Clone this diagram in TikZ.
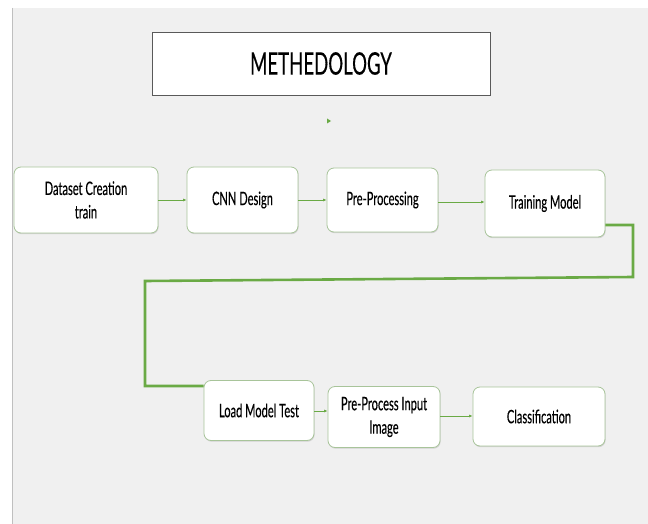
\documentclass[tikz,border=0pt]{standalone}
\usepackage{fontspec}
\setmainfont[FakeStretch=0.6,FakeBold=0.3]{Lato}
\usetikzlibrary{arrows.meta,shadows}
\definecolor{bg}{HTML}{F0F0F0}
\definecolor{lg}{HTML}{6AAA45}
\definecolor{bd}{HTML}{A8C49A}
\tikzset{
  box/.style={draw=bd, line width=0.8pt, fill=white, rounded corners=7pt,
    align=center, font=\fontsize{18.5}{23.5}\selectfont, inner sep=2pt,
    drop shadow={shadow xshift=0.6pt, shadow yshift=-1.2pt, fill=black!25, opacity=0.6}},
  flow/.style={draw=lg, line width=0.7pt, -{Latex[length=3.5pt,width=3pt]}},
  loopline/.style={draw=lg, line width=2.6pt}
}
\begin{document}
\begin{tikzpicture}[x=1pt,y=-1pt]
\useasboundingbox (0,0) rectangle (648,524);
\fill[white] (0,0) rectangle (648,524);
\fill[bg] (12,8) rectangle (648,524);
\draw[black!25, line width=0.8pt] (12,8) -- (12,524);
% title
\node[draw=black!65, line width=0.8pt, fill=white, minimum width=338pt, minimum height=63pt,
  font=\fontsize{31}{36}\selectfont, inner sep=0pt] (title) at (321,63.5) {METHEDOLOGY};
\fill[lg] (327,118.5) -- (331,121) -- (327,123.5) -- cycle;
% row 1
\node[box, minimum width=144pt, minimum height=66pt] (b1) at (86,200) {Dataset Creation\\train};
\node[box, minimum width=111pt, minimum height=66pt] (b2) at (242.5,200) {CNN Design};
\node[box, minimum width=111pt, minimum height=64pt] (b3) at (382.5,200) {Pre-Processing};
\node[box, minimum width=120pt, minimum height=67pt] (b4) at (545,203.5) {Training Model};
% row 2
\node[box, minimum width=110pt, minimum height=60pt] (b5) at (259,410.5) {Load Model Test};
\node[box, minimum width=112pt, minimum height=61pt] (b6) at (384,417) {Pre-Process Input\\Image};
\node[box, minimum width=132pt, minimum height=59pt] (b7) at (539,416.5) {Classification};
% arrows
\draw[flow] (b1.east) -- (b2.west);
\draw[flow] (b2.east) -- (b3.west);
\draw[flow] (b3.east |- 0,202) -- (b4.west |- 0,202);
\draw[flow] (b5.east |- 0,411) -- (b6.west |- 0,411);
\draw[flow] (b6.east |- 0,416) -- (b7.west |- 0,416);
% loop connector
\coordinate (k1) at (633,225);
\coordinate (k2) at (633,277);
\coordinate (k3) at (145,281);
\coordinate (k4) at (145,386);
\draw[loopline] ([yshift=-21.5pt]b4.east) -- (k1) -- (k2) -- (k3) -- (k4) -- (b5.west |- k4);
\end{tikzpicture}
\end{document}
